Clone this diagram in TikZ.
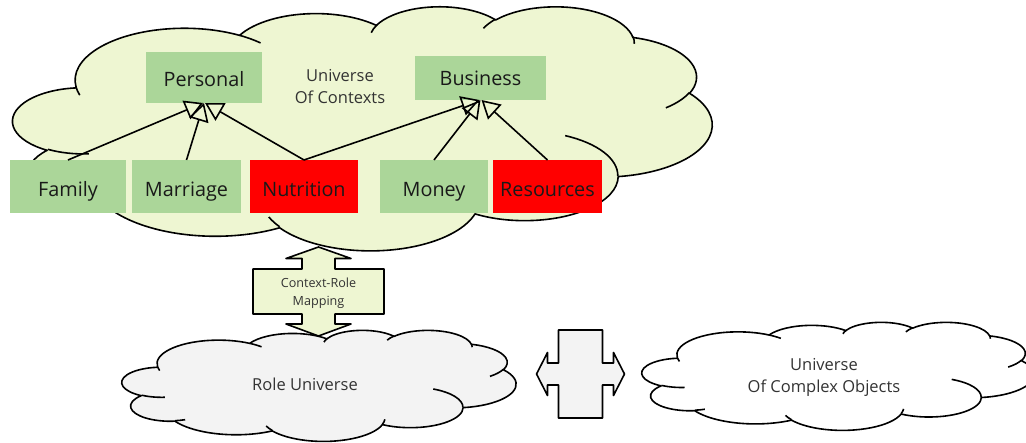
\documentclass[tikz,border=0pt]{standalone}
\usepackage{fontspec}
\setmainfont{Open Sans}
\usetikzlibrary{arrows.meta,positioning,calc}

\definecolor{ctxgreen}{HTML}{EEF6D2}
\definecolor{boxgreen}{HTML}{ABD699}
\definecolor{rolegrey}{HTML}{F3F3F3}

% visual angle -> parametric angle of an ellipse arc
\pgfmathdeclarefunction{visang}{3}{%
  \begingroup
  \pgfmathparse{atan2(#2*sin(#1), #3*cos(#1))}%
  \pgfmathparse{#1 + Mod(\pgfmathresult - #1 + 180, 360) - 180}%
  \pgfmathsmuggle\pgfmathresult
  \endgroup}
\newcommand\carc[4]{arc[x radius=#1, y radius=#2,
  start angle={visang(#3,#1,#2)}, end angle={visang(#3+#4,#1,#2)}]}

\tikzset{
  pics/ocloud/.style={code={
    \filldraw[fill=#1] (39,143.7)
      \carc{67.53}{91.90}{-190.4875}{123.7805}
      \carc{53.33}{72.67}{-144.1024}{89.9452}
      \carc{43.65}{59.45}{-145.8079}{99.7230}
      \carc{48.57}{65.95}{-130.9861}{117.2417}
      \carc{53.33}{72.73}{-78.7089}{109.0269}
      \carc{67.75}{92.20}{-46.2673}{130.2690}
      \carc{57.85}{78.67}{0.6250}{114.0333}
      \carc{67.52}{92.15}{22.4516}{115.1726}
      \carc{77.20}{105.43}{66.2426}{75.7110}
      \carc{43.60}{59.18}{-274.9421}{146.7356}
      \carc{43.45}{59.45}{-246.8285}{152.5189} -- cycle;
    % inner curls
    \draw (46.93,261.77) \carc{43.45}{59.45}{86.7420}{26.4295}
      (69.28,348.99) \carc{43.60}{59.18}{73.6105}{11.4475}
      (164.78,390.90) \carc{67.52}{92.15}{137.6242}{14.0811}
      (288.27,347.51) \carc{67.52}{92.15}{6.4533}{15.9984}
      (341.29,229.54) \carc{57.85}{78.67}{-70.2924}{70.9174}
      (417.98,153.54) \carc{53.33}{72.73}{30.3180}{27.7515}
      (383.24,54.26) \carc{48.57}{65.95}{-13.7443}{14.8589}
      (290.78,39.52) \carc{48.57}{65.95}{-149.1815}{18.1954}
      (221.41,47.20) \carc{43.65}{59.45}{-163.4943}{17.6864}
      (140.00,51.92) \carc{67.53}{91.90}{-66.7070}{12.3194}
      (41.27,157.89) \carc{67.53}{91.90}{157.6544}{11.8582};
  }}
}

\begin{document}
\begin{tikzpicture}[x=1pt, y=-1pt, line width=1.6pt, line join=round,
        item/.style={rectangle, fill=boxgreen, minimum width=108pt, minimum height=53pt,
          inner sep=0pt, outer sep=0pt, text height=24pt, text depth=4pt,
          text=black!90, font=\fontsize{19.8}{24}\selectfont},
        hot/.style={item, fill=red},
        cloudtext/.style={align=center, inner sep=0pt, text=black!80,
          font=\fontsize{16.5}{22}\selectfont},
        isa/.style={-{Triangle[open, length=18pt, width=20pt]}, line join=miter},
        bigarrow/.style={draw, fill=#1}]
    \useasboundingbox (0,0) rectangle (1026,443);

    % clouds
    \pic[xscale=1.618, yscale=0.5648] (ctxcloud) at (13,6) {ocloud=ctxgreen};
    \pic[xscale=0.912, yscale=0.257] (rolecloud) at (122,330) {ocloud=rolegrey};
    \pic[xscale=0.9074, yscale=0.25] (cocloud) at (642,322) {ocloud=white};

    \node[cloudtext] (ctxtext) at (340,87) {Universe\\Of Contexts};
    \node[cloudtext] (roletext) at (305,384) {Role Universe};
    \node[cloudtext] (cotext) at (824,377) {Universe\\Of Complex Objects};

    % contexts
    \node[item, minimum width=116pt, minimum height=51pt, text height=22.6pt] (personal) at (204,77.5) {Personal};
    \node[item, minimum width=131pt, minimum height=44pt, text height=19.6pt] (business) at (480.5,78) {Business};

    \node[item, minimum width=116pt] (family) at (68,186.5) {Family};
    \node[item, minimum width=109pt, right=6pt of family] (marriage) {Marriage};
    \node[hot, right=9pt of marriage] (nutrition) {Nutrition};
    \node[item, right=22pt of nutrition] (money) {Money};
    \node[hot, minimum width=109pt, right=5pt of money] (resources) {Resources};

    \draw[isa] (family.north) -- ($(personal.south)+(-1,0)$);
    \draw[isa] (marriage.north) -- (personal.south);
    \draw[isa] (nutrition.north) -- ($(personal.south)+(1,0)$);
    \draw[isa] (nutrition.north) -- ($(business.south)+(-1,0)$);
    \draw[isa] (money.north) -- (business.south);
    \draw[isa] (resources.north) -- ($(business.south)+(1,0)$);

    % mapping arrows
    \coordinate (crmid) at (318.5,291.5);
    \draw[bigarrow=ctxgreen, shift={(crmid)}] (0,-44.5) -- (32.5,-33) -- (16.5,-33) -- (16.5,-22.5)
        -- (65.5,-22.5) -- (65.5,22.5) -- (16.5,22.5) -- (16.5,32.5) -- (32.5,32.5) -- (0,44.5)
        -- (-32.5,32.5) -- (-16.5,32.5) -- (-16.5,22.5) -- (-65.5,22.5) -- (-65.5,-22.5)
        -- (-16.5,-22.5) -- (-16.5,-33) -- (-32.5,-33) -- cycle;
    \node[align=center, text=black!80, font=\fontsize{12.6}{18}\selectfont] (crmap) at ([yshift=-2pt]crmid) {Context-Role\\Mapping};

    \coordinate (romid) at (580.5,374);
    \draw[bigarrow=rolegrey, shift={(romid)}] (-44,0) -- (-33,-21.5) -- (-33,-11) -- (-22,-11)
        -- (-22,-44) -- (22,-44) -- (22,-11) -- (33,-11) -- (33,-21.5) -- (44,0) -- (33,21.5)
        -- (33,11) -- (22,11) -- (22,44) -- (-22,44) -- (-22,11) -- (-33,11) -- (-33,21.5) -- cycle;

\end{tikzpicture}
\end{document}
